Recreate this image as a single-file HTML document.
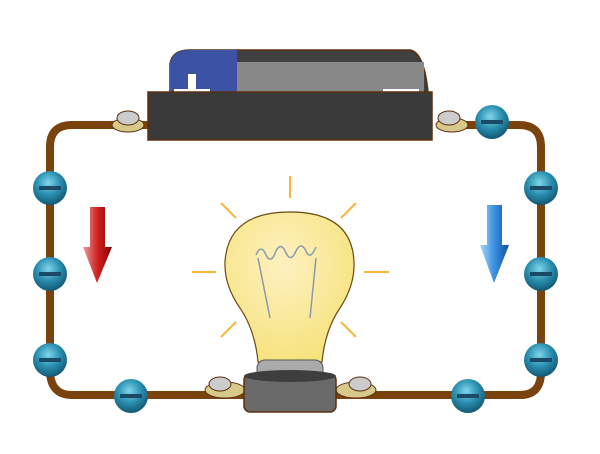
<!DOCTYPE html>
<html><head><meta charset="utf-8"><style>html,body{margin:0;padding:0;background:#fff}svg{display:block}</style></head>
<body>
<svg width="600" height="454" viewBox="0 0 600 454" xmlns="http://www.w3.org/2000/svg">
<defs>
<radialGradient id="eg" cx="0.45" cy="0.35" r="0.7">
<stop offset="0" stop-color="#7fd6ea"/><stop offset="0.5" stop-color="#2a8fb0"/><stop offset="1" stop-color="#0e4f6a"/>
</radialGradient>
<linearGradient id="ra" x1="0" x2="1"><stop offset="0" stop-color="#e8a0a0"/><stop offset="0.5" stop-color="#d02020"/><stop offset="1" stop-color="#8a0000"/></linearGradient>
<linearGradient id="ba" x1="0" x2="1"><stop offset="0" stop-color="#a8d8f8"/><stop offset="0.5" stop-color="#3a8ee0"/><stop offset="1" stop-color="#1050a0"/></linearGradient>
<radialGradient id="bg" cx="0.45" cy="0.35" r="0.7"><stop offset="0" stop-color="#fdf1c0"/><stop offset="1" stop-color="#f6e27a"/></radialGradient>
</defs>
<path d="M150 125 H72 Q50 125 50 147 V370 Q50 395 72 395 H520 Q541 395 541 372 V147 Q541 125 519 125 H440" fill="none" stroke="#7a420c" stroke-width="8"/>
<g>
<path d="M170 92 V64 Q172 50 190 50 H410 Q424 52 428 92 Z" fill="#404040" stroke="#5a3010" stroke-width="1.5"/>
<rect x="172" y="62" width="252" height="32" fill="#888"/>
<path d="M170 92 V64 Q172 50 190 50 H237 V92 Z" fill="#3b52a5"/>
<rect x="188" y="74" width="8" height="18" fill="#fff"/><rect x="174" y="89" width="36" height="4" fill="#fff"/>
<rect x="383" y="89" width="36" height="4" fill="#fff"/>
<rect x="148" y="92" width="284" height="48" fill="#3a3a3a" stroke="#5a3010" stroke-width="1.5"/>
</g>
<g>
<ellipse cx="128" cy="125" rx="16" ry="7" fill="#d8c98a" stroke="#5a3010"/><ellipse cx="128" cy="118" rx="11" ry="7" fill="#ccc" stroke="#5a3010"/>
<ellipse cx="452" cy="125" rx="16" ry="7" fill="#d8c98a" stroke="#5a3010"/><ellipse cx="449" cy="118" rx="11" ry="7" fill="#ccc" stroke="#5a3010"/>
</g>
<g stroke="#f8b63a" stroke-width="2">
<line x1="290" y1="176" x2="290" y2="198"/><line x1="221" y1="203" x2="236" y2="218"/><line x1="356" y1="203" x2="341" y2="218"/>
<line x1="192" y1="272" x2="216" y2="272"/><line x1="364" y1="272" x2="389" y2="272"/>
<line x1="221" y1="337" x2="236" y2="322"/><line x1="356" y1="337" x2="341" y2="322"/>
</g>
<g>
<path d="M258 362 Q255 330 240 308 Q224 285 225 262 Q228 212 290 212 Q352 212 354 262 Q355 285 340 308 Q325 330 322 362 Z" fill="url(#bg)" stroke="#6a4a10" stroke-width="1.2"/>
<path d="M256 255 q5 -12 10 0 q5 10 10 -4 q5 -10 10 2 q5 10 10 -2 q5 -10 10 0 q4 10 10 -4 M258 258 L270 318 M316 258 L310 318" fill="none" stroke="#8a9ab0" stroke-width="1.5"/>
<rect x="257" y="360" width="66" height="20" rx="8" fill="#aaa" stroke="#555"/>
</g>
<g>
<ellipse cx="225" cy="390" rx="20" ry="8" fill="#d8c98a" stroke="#5a3010"/><ellipse cx="220" cy="384" rx="11" ry="7" fill="#ccc" stroke="#5a3010"/>
<ellipse cx="356" cy="390" rx="20" ry="8" fill="#d8c98a" stroke="#5a3010"/><ellipse cx="360" cy="384" rx="11" ry="7" fill="#ccc" stroke="#5a3010"/>
<rect x="244" y="374" width="92" height="38" rx="6" fill="#6a6a6a" stroke="#5a3010" stroke-width="1.5"/>
<ellipse cx="290" cy="376" rx="46" ry="6" fill="#3e3e3e"/>
</g>
<g><path d="M90 207 H105 V247 H112 L97 283 L83 247 H90 Z" fill="url(#ra)"/></g>
<g><path d="M487 205 H502 V245 H509 L494 283 L480 245 H487 Z" fill="url(#ba)"/></g>
<g>
<g transform="translate(492,122)"><circle r="17" fill="url(#eg)"/><rect x="-11" y="-2" width="22" height="4" fill="#1a4a66"/></g>
<g transform="translate(541,188)"><circle r="17" fill="url(#eg)"/><rect x="-11" y="-2" width="22" height="4" fill="#1a4a66"/></g>
<g transform="translate(541,274)"><circle r="17" fill="url(#eg)"/><rect x="-11" y="-2" width="22" height="4" fill="#1a4a66"/></g>
<g transform="translate(541,360)"><circle r="17" fill="url(#eg)"/><rect x="-11" y="-2" width="22" height="4" fill="#1a4a66"/></g>
<g transform="translate(468,396)"><circle r="17" fill="url(#eg)"/><rect x="-11" y="-2" width="22" height="4" fill="#1a4a66"/></g>
<g transform="translate(131,396)"><circle r="17" fill="url(#eg)"/><rect x="-11" y="-2" width="22" height="4" fill="#1a4a66"/></g>
<g transform="translate(50,360)"><circle r="17" fill="url(#eg)"/><rect x="-11" y="-2" width="22" height="4" fill="#1a4a66"/></g>
<g transform="translate(50,274)"><circle r="17" fill="url(#eg)"/><rect x="-11" y="-2" width="22" height="4" fill="#1a4a66"/></g>
<g transform="translate(50,188)"><circle r="17" fill="url(#eg)"/><rect x="-11" y="-2" width="22" height="4" fill="#1a4a66"/></g>
</g>
</svg>
</body></html>
